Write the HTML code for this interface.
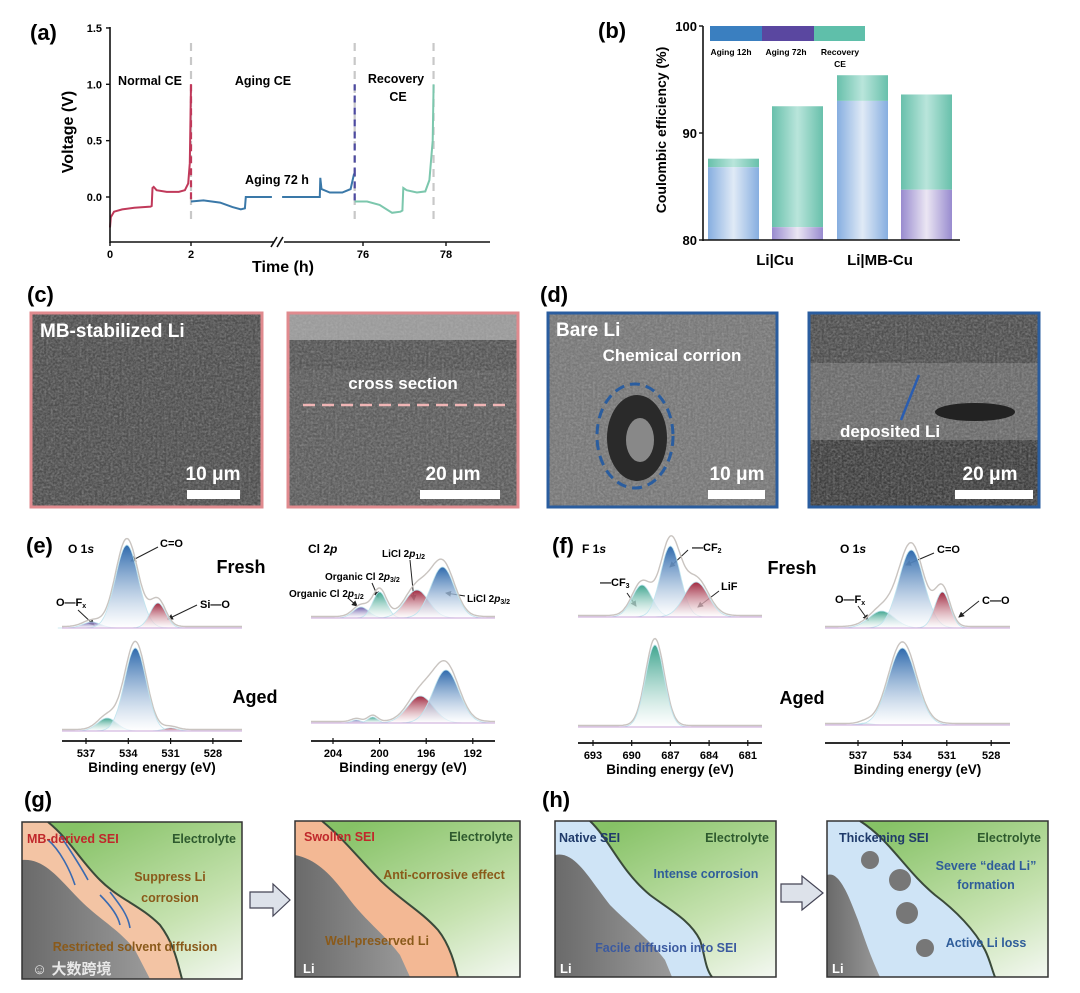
<!DOCTYPE html>
<html><head><meta charset="utf-8"><style>
html,body{margin:0;padding:0;background:#fff;}
svg{display:block;font-family:"Liberation Sans","Noto Sans CJK SC",sans-serif;}
text{font-weight:bold;}
</style></head><body>
<svg id="fig" width="1080" height="993" viewBox="0 0 1080 993" xmlns="http://www.w3.org/2000/svg">
<defs>
<filter id="sem" x="0" y="0" width="1" height="1"><feTurbulence type="fractalNoise" baseFrequency="0.45" numOctaves="3" seed="3"/><feColorMatrix type="matrix" values="0 0 0 0 0.5  0 0 0 0 0.5  0 0 0 0 0.5  0.5 0.5 0 0 -0.35"/><feComposite in2="SourceGraphic" operator="in"/></filter>
<filter id="sem2" x="0" y="0" width="1" height="1"><feTurbulence type="fractalNoise" baseFrequency="0.08" numOctaves="3" seed="9"/><feColorMatrix type="matrix" values="0 0 0 0 0.1  0 0 0 0 0.1  0 0 0 0 0.1  0.9 0.9 0 0 -0.75"/><feComposite in2="SourceGraphic" operator="in"/></filter>
<linearGradient id="gB" x1="0" x2="1"><stop offset="0" stop-color="#86aee0"/><stop offset="0.5" stop-color="#e0eaf6"/><stop offset="1" stop-color="#86aee0"/></linearGradient>
<linearGradient id="gT" x1="0" x2="1"><stop offset="0" stop-color="#68c0ab"/><stop offset="0.5" stop-color="#b9e5db"/><stop offset="1" stop-color="#68c0ab"/></linearGradient>
<linearGradient id="gP" x1="0" x2="1"><stop offset="0" stop-color="#988bcf"/><stop offset="0.5" stop-color="#ebe6f3"/><stop offset="1" stop-color="#988bcf"/></linearGradient>
<linearGradient id="pk-blue" x1="0" y1="0" x2="0" y2="1"><stop offset="0" stop-color="#2e6aad"/><stop offset="1" stop-color="#fff" stop-opacity="0.6"/></linearGradient>
<linearGradient id="pk-red" x1="0" y1="0" x2="0" y2="1"><stop offset="0" stop-color="#a0283f"/><stop offset="1" stop-color="#fff" stop-opacity="0.6"/></linearGradient>
<linearGradient id="pk-green" x1="0" y1="0" x2="0" y2="1"><stop offset="0" stop-color="#3fa58f"/><stop offset="1" stop-color="#fff" stop-opacity="0.6"/></linearGradient>
<linearGradient id="pk-purple" x1="0" y1="0" x2="0" y2="1"><stop offset="0" stop-color="#6a5aa8"/><stop offset="1" stop-color="#fff" stop-opacity="0.6"/></linearGradient>
<linearGradient id="elec" x1="0.3" y1="0" x2="1" y2="1"><stop offset="0" stop-color="#86c266"/><stop offset="0.6" stop-color="#c6e2b0"/><stop offset="1" stop-color="#f4f8f2"/></linearGradient>
<linearGradient id="liG" x1="0" y1="0" x2="1" y2="0"><stop offset="0" stop-color="#6a6a6a"/><stop offset="1" stop-color="#9a9a9a"/></linearGradient>
<marker id="arr" markerWidth="6" markerHeight="6" refX="5" refY="3" orient="auto"><path d="M0,0 L6,3 L0,6 z" fill="#222"/></marker>
</defs>

<!-- panel labels -->
<text x="30" y="40" font-size="22">(a)</text>
<text x="598" y="38" font-size="22">(b)</text>
<text x="27" y="302" font-size="22">(c)</text>
<text x="540" y="302" font-size="22">(d)</text>
<text x="26" y="553" font-size="22">(e)</text>
<text x="552" y="553" font-size="22">(f)</text>
<text x="24" y="807" font-size="22">(g)</text>
<text x="542" y="807" font-size="22">(h)</text>

<!-- panel a static -->
<g id="pa">
<text transform="translate(73,132) rotate(-90)" text-anchor="middle" font-size="16">Voltage (V)</text>
<text x="283" y="272" text-anchor="middle" font-size="16">Time (h)</text>
<text x="150" y="85" text-anchor="middle" font-size="12.5">Normal CE</text>
<text x="263" y="85" text-anchor="middle" font-size="12.5">Aging CE</text>
<text x="396" y="83" text-anchor="middle" font-size="12.5">Recovery</text>
<text x="398" y="101" text-anchor="middle" font-size="12.5">CE</text>
<text x="277" y="184" text-anchor="middle" font-size="12.5">Aging 72 h</text>
</g>

<!-- panel b static -->
<g id="pb">
<text transform="translate(666,130) rotate(-90)" text-anchor="middle" font-size="14">Coulombic efficiency (%)</text>
<rect x="710" y="26" width="52" height="15" fill="#3a7fc0"/>
<rect x="762" y="26" width="52" height="15" fill="#5a47a0"/>
<rect x="814" y="26" width="51" height="15" fill="#5fbfaa"/>
<text x="731" y="55" text-anchor="middle" font-size="8.5">Aging 12h</text>
<text x="786" y="55" text-anchor="middle" font-size="8.5">Aging 72h</text>
<text x="840" y="55" text-anchor="middle" font-size="8.5">Recovery</text>
<text x="840" y="67" text-anchor="middle" font-size="8.5">CE</text>
</g>

<!-- panel c / d SEM -->
<g>
<rect x="31" y="313" width="231" height="194" fill="#4e4e4e"/>
<rect x="31" y="313" width="231" height="194" fill="#000" filter="url(#sem)"/>
<rect x="31" y="313" width="231" height="194" fill="none" stroke="#e08a8e" stroke-width="3"/>
<text x="40" y="337" font-size="19" fill="#fff">MB-stabilized Li</text>
<text x="213" y="480" font-size="19" fill="#fff" text-anchor="middle">10 μm</text>
<rect x="187" y="490" width="53" height="9" fill="#fff"/>
</g>
<g>
<rect x="288" y="313" width="230" height="194" fill="#5c5c5c"/>
<rect x="288" y="313" width="230" height="40" fill="#9a9a9a"/>
<rect x="288" y="340" width="230" height="30" fill="#555"/>
<rect x="288" y="313" width="230" height="194" fill="#000" filter="url(#sem)"/>
<rect x="288" y="313" width="230" height="194" fill="none" stroke="#e08a8e" stroke-width="3"/>
<text x="403" y="389" font-size="17" fill="#fff" text-anchor="middle">cross section</text>
<line x1="303" y1="405" x2="505" y2="405" stroke="#f0b5b5" stroke-width="2.5" stroke-dasharray="12,7"/>
<text x="453" y="480" font-size="19" fill="#fff" text-anchor="middle">20 μm</text>
<rect x="420" y="490" width="80" height="9" fill="#fff"/>
</g>
<g>
<rect x="548" y="313" width="229" height="194" fill="#777"/>
<rect x="548" y="313" width="229" height="194" fill="#000" filter="url(#sem)"/>
<ellipse cx="637" cy="438" rx="30" ry="43" fill="#2a2a2a"/>
<ellipse cx="640" cy="440" rx="14" ry="22" fill="#888"/>
<ellipse cx="635" cy="436" rx="38" ry="52" fill="none" stroke="#2a5d9f" stroke-width="3" stroke-dasharray="10,6"/>
<rect x="548" y="313" width="229" height="194" fill="none" stroke="#2a5d9f" stroke-width="3"/>
<text x="556" y="336" font-size="19" fill="#fff">Bare Li</text>
<text x="672" y="361" font-size="17" fill="#fff" text-anchor="middle">Chemical corrion</text>
<text x="737" y="480" font-size="19" fill="#fff" text-anchor="middle">10 μm</text>
<rect x="708" y="490" width="57" height="9" fill="#fff"/>
</g>
<g>
<rect x="809" y="313" width="230" height="194" fill="#6a6a6a"/>
<rect x="809" y="313" width="230" height="50" fill="#4e4e4e"/>
<rect x="809" y="440" width="230" height="67" fill="#3e3e3e"/>
<rect x="809" y="313" width="230" height="194" fill="#000" filter="url(#sem)"/>
<ellipse cx="975" cy="412" rx="40" ry="9" fill="#222"/>
<rect x="809" y="313" width="230" height="194" fill="none" stroke="#2a5d9f" stroke-width="3"/>
<line x1="919" y1="375" x2="901" y2="420" stroke="#2a5db0" stroke-width="2.5"/>
<text x="890" y="437" font-size="17" fill="#fff" text-anchor="middle">deposited Li</text>
<text x="990" y="480" font-size="19" fill="#fff" text-anchor="middle">20 μm</text>
<rect x="955" y="490" width="78" height="9" fill="#fff"/>
</g>

<!-- XPS labels -->
<g font-size="11">
<text x="68" y="553" font-size="12">O 1<tspan font-style="italic">s</tspan></text>
<text x="241" y="573" font-size="18" text-anchor="middle">Fresh</text>
<text x="255" y="703" font-size="18" text-anchor="middle">Aged</text>
<text x="160" y="547">C=O</text><line x1="158" y1="547" x2="131" y2="561" stroke="#222" marker-end="url(#arr)"/>
<text x="56" y="606">O—F<tspan font-size="7" dy="2">x</tspan></text><line x1="78" y1="610" x2="94" y2="625" stroke="#222" marker-end="url(#arr)"/>
<text x="200" y="608">Si—O</text><line x1="197" y1="605" x2="168" y2="619" stroke="#222" marker-end="url(#arr)"/>
<text x="308" y="553" font-size="12">Cl 2<tspan font-style="italic">p</tspan></text>
<text x="382" y="557" font-size="10">LiCl 2<tspan font-style="italic">p</tspan><tspan font-size="7" dy="2">1/2</tspan></text><line x1="410" y1="560" x2="414" y2="600" stroke="#222" marker-end="url(#arr)"/>
<text x="325" y="580" font-size="10">Organic Cl 2<tspan font-style="italic">p</tspan><tspan font-size="7" dy="2">3/2</tspan></text><line x1="372" y1="583" x2="378" y2="597" stroke="#222" marker-end="url(#arr)"/>
<text x="289" y="597" font-size="10">Organic Cl 2<tspan font-style="italic">p</tspan><tspan font-size="7" dy="2">1/2</tspan></text><line x1="348" y1="598" x2="357" y2="606" stroke="#222" marker-end="url(#arr)"/>
<text x="467" y="602" font-size="10">LiCl 2<tspan font-style="italic">p</tspan><tspan font-size="7" dy="2">3/2</tspan></text><line x1="465" y1="596" x2="446" y2="593" stroke="#222" marker-end="url(#arr)"/>

<text x="582" y="553" font-size="12">F 1<tspan font-style="italic">s</tspan></text>
<text x="792" y="574" font-size="18" text-anchor="middle">Fresh</text>
<text x="802" y="704" font-size="18" text-anchor="middle">Aged</text>
<text x="692" y="551">—CF<tspan font-size="7" dy="2">2</tspan></text><line x1="688" y1="550" x2="670" y2="567" stroke="#222" marker-end="url(#arr)"/>
<text x="600" y="586">—CF<tspan font-size="7" dy="2">3</tspan></text><line x1="627" y1="593" x2="636" y2="606" stroke="#222" marker-end="url(#arr)"/>
<text x="721" y="590">LiF</text><line x1="719" y1="591" x2="698" y2="607" stroke="#222" marker-end="url(#arr)"/>
<text x="840" y="553" font-size="12">O 1<tspan font-style="italic">s</tspan></text>
<text x="937" y="553">C=O</text><line x1="934" y1="553" x2="906" y2="565" stroke="#222" marker-end="url(#arr)"/>
<text x="835" y="603">O—F<tspan font-size="7" dy="2">x</tspan></text><line x1="858" y1="606" x2="868" y2="620" stroke="#222" marker-end="url(#arr)"/>
<text x="982" y="604">C—O</text><line x1="979" y1="601" x2="959" y2="617" stroke="#222" marker-end="url(#arr)"/>
</g>

<!-- schematics -->
<g>
<rect x="22" y="822" width="220" height="157" fill="url(#elec)"/>
<path d="M22,822 L48,822 C70,840 80,860 100,880 C120,900 140,905 160,925 C175,945 178,965 182,979 L22,979 Z" fill="#f3c4a4"/>
<path d="M22,860 C45,858 60,880 80,900 C100,920 120,930 135,950 L150,979 L22,979 Z" fill="url(#liG)"/>
<path d="M48,822 C70,840 80,860 100,880 C120,900 140,905 160,925 C175,945 178,965 182,979" fill="none" stroke="#3a4a3a" stroke-width="2"/>
<path d="M48,840 C60,850 70,870 75,885 M60,835 C70,850 80,865 88,880 M100,895 C110,905 118,915 120,925 M110,892 C120,905 128,915 130,928" stroke="#3a6ab0" stroke-width="1.6" fill="none"/>
<rect x="22" y="822" width="220" height="157" fill="none" stroke="#333" stroke-width="1.5"/>
<text x="27" y="843" font-size="12.5" fill="#c0282b">MB-derived SEI</text>
<text x="236" y="843" font-size="12.5" fill="#2e5a2e" text-anchor="end">Electrolyte</text>
<text x="170" y="881" font-size="12.5" fill="#8a5a1a" text-anchor="middle">Suppress Li</text>
<text x="170" y="902" font-size="12.5" fill="#8a5a1a" text-anchor="middle">corrosion</text>
<text x="135" y="951" font-size="12.5" fill="#8a5a1a" text-anchor="middle">Restricted solvent diffusion</text>
<text x="32" y="974" font-size="15" fill="#e8e8e8" font-weight="normal">☺ 大数跨境</text>
</g>
<path d="M250,892 L273,892 L273,884 L290,900 L273,916 L273,908 L250,908 Z" fill="#dde2ea" stroke="#445" stroke-width="1.2"/>
<g>
<rect x="295" y="821" width="225" height="156" fill="url(#elec)"/>
<path d="M295,821 L322,821 C345,840 360,860 380,880 C400,900 420,910 438,930 C450,945 455,965 458,977 L295,977 Z" fill="#f3b894"/>
<path d="M295,855 C320,860 335,880 350,900 C365,920 385,935 400,955 L410,977 L295,977 Z" fill="url(#liG)"/>
<path d="M322,821 C345,840 360,860 380,880 C400,900 420,910 438,930 C450,945 455,965 458,977" fill="none" stroke="#3a4a3a" stroke-width="2"/>
<rect x="295" y="821" width="225" height="156" fill="none" stroke="#333" stroke-width="1.5"/>
<text x="304" y="841" font-size="12.5" fill="#c0282b">Swollen SEI</text>
<text x="513" y="841" font-size="12.5" fill="#2e5a2e" text-anchor="end">Electrolyte</text>
<text x="444" y="879" font-size="12.5" fill="#8a5a1a" text-anchor="middle">Anti-corrosive effect</text>
<text x="377" y="945" font-size="12.5" fill="#8a5a1a" text-anchor="middle">Well-preserved Li</text>
<text x="303" y="973" font-size="13" fill="#fff">Li</text>
</g>
<g>
<rect x="555" y="821" width="221" height="156" fill="url(#elec)"/>
<path d="M555,821 L590,821 C610,840 620,870 650,895 C670,910 690,920 700,940 C705,955 705,968 712,977 L555,977 Z" fill="#cfe4f6"/>
<path d="M555,855 C575,850 590,880 610,905 C630,925 650,940 665,960 L672,977 L555,977 Z" fill="url(#liG)"/>
<path d="M590,821 C610,840 620,870 650,895 C670,910 690,920 700,940 C705,955 705,968 712,977" fill="none" stroke="#3a4a3a" stroke-width="2"/>
<rect x="555" y="821" width="221" height="156" fill="none" stroke="#333" stroke-width="1.5"/>
<text x="559" y="842" font-size="12.5" fill="#1f3a6a">Native SEI</text>
<text x="769" y="842" font-size="12.5" fill="#2e5a2e" text-anchor="end">Electrolyte</text>
<text x="706" y="878" font-size="12.5" fill="#2f5d9a" text-anchor="middle">Intense corrosion</text>
<text x="666" y="952" font-size="12.5" fill="#3b5aa0" text-anchor="middle">Facile diffusion into SEI</text>
<text x="560" y="973" font-size="13" fill="#fff">Li</text>
</g>
<path d="M781,884 L802,884 L802,876 L823,893 L802,910 L802,902 L781,902 Z" fill="#dde2ea" stroke="#445" stroke-width="1.2"/>
<g>
<rect x="827" y="821" width="221" height="156" fill="url(#elec)"/>
<path d="M827,821 L860,821 C890,840 905,870 935,895 C955,910 975,930 985,950 C990,960 992,970 995,977 L827,977 Z" fill="#cfe4f6"/>
<path d="M827,875 C840,870 850,900 858,920 C865,940 870,955 880,977 L827,977 Z" fill="url(#liG)"/>
<circle cx="870" cy="860" r="9" fill="#777"/><circle cx="900" cy="880" r="11" fill="#777"/><circle cx="907" cy="913" r="11" fill="#777"/><circle cx="925" cy="948" r="9" fill="#777"/>
<path d="M860,821 C890,840 905,870 935,895 C955,910 975,930 985,950 C990,960 992,970 995,977" fill="none" stroke="#3a4a3a" stroke-width="2"/>
<rect x="827" y="821" width="221" height="156" fill="none" stroke="#333" stroke-width="1.5"/>
<text x="839" y="842" font-size="12.5" fill="#1f3a6a">Thickening SEI</text>
<text x="1041" y="842" font-size="12.5" fill="#2e5a2e" text-anchor="end">Electrolyte</text>
<text x="986" y="870" font-size="12.5" fill="#2f5d9a" text-anchor="middle">Severe “dead Li”</text>
<text x="986" y="889" font-size="12.5" fill="#2f5d9a" text-anchor="middle">formation</text>
<text x="986" y="947" font-size="12.5" fill="#2f5d9a" text-anchor="middle">Active Li loss</text>
<text x="832" y="973" font-size="13" fill="#fff">Li</text>
</g>
</svg>
<script>
// ---------- Panel (a) data ----------
const redT = [0,0.02,0.1,0.3,0.6,1.0,1.03,1.05,1.08,1.15,1.4,1.7,1.85,1.93,1.97,2.0];
const redV = [-0.27,-0.18,-0.13,-0.11,-0.095,-0.085,-0.08,0.08,0.09,0.06,0.045,0.045,0.06,0.12,0.3,1.0];
const blue1T = [2.0,2.3,2.7,3.0,3.2,3.3,3.32,3.95];
const blue1V = [-0.04,-0.03,-0.05,-0.09,-0.11,-0.10,0.0,0.0];
const blue2T = [74.05,74.96,74.97,75.0,75.2,75.5,75.7,75.78,75.8];
const blue2V = [0.0,0.0,0.17,0.07,0.04,0.04,0.07,0.2,0.2];
const tealT = [75.8,76.1,76.4,76.7,76.9,76.95,76.97,77.05,77.3,77.5,77.6,77.68,77.7];
const tealV = [-0.04,-0.04,-0.07,-0.14,-0.13,-0.12,0.08,0.06,0.04,0.05,0.15,0.5,1.0];
const aTicksV = [0,0.5,1.0,1.5];
const aTicksT = [0,2,76,78];
const aDividers = [2.0,75.8,77.7];
// ---------- Panel (b) data ----------
const bGroups = ["Li|Cu","Li|MB-Cu"];
const bTotal = [87.6,92.5,95.4,93.6];
const bLower = [86.8,81.2,93.0,84.7];
const bLowerKind = ["12h","72h","12h","72h"];
const bTicks = [80,90,100];
// ---------- XPS data ----------
const eLeftTicks=[537,534,531,528];
const eRightTicks=[204,200,196,192];
const fLeftTicks=[693,690,687,684,681];
const fRightTicks=[537,534,531,528];
const oFreshC=[536.6,534.1,531.9], oFreshA=[6,83,25], oFreshW=[1.5,1.9,1.3];
const oAgedC=[535.5,533.5,531.0], oAgedA=[13,83,3], oAgedW=[1.6,1.8,1.2];
const clFreshC=[201.6,200.0,196.8,194.6], clFreshA=[11,26,28,51], clFreshW=[1.6,1.4,2.4,2.4];
const clAgedC=[202.0,200.6,196.5,194.3], clAgedA=[3,6,27,53], clAgedW=[1.0,1.0,2.6,2.6];
const fFreshC=[689.2,687.0,685.0], fFreshA=[32,71,35], fFreshW=[1.8,1.8,2.2];
const fAgedC=[688.2], fAgedA=[82], fAgedW=[1.7];
const o2FreshC=[535.4,533.4,531.3], o2FreshA=[17,78,36], o2FreshW=[2.0,2.0,1.2];
const o2AgedC=[536.5,534.0], o2AgedA=[2,77], o2AgedW=[1.0,2.2];

const NS="http://www.w3.org/2000/svg";
const fig=document.getElementById('fig');
function mk(tag,attrs,parent){const e=document.createElementNS(NS,tag);for(const k in attrs)e.setAttribute(k,attrs[k]);(parent||fig).appendChild(e);return e;}
function txt(x,y,s,size,anchor,parent){const t=mk('text',{x:x,y:y,'font-size':size,'text-anchor':anchor||'middle'},parent);t.textContent=s;return t;}

// ---- Panel a ----
const pa=document.getElementById('pa');
const aDom=[0,2,4,74,78], aRng=[110,191,274,280,446];
function xa(t){for(let i=0;i<aDom.length-1;i++){if(t<=aDom[i+1]||i===aDom.length-2){return aRng[i]+(t-aDom[i])*(aRng[i+1]-aRng[i])/(aDom[i+1]-aDom[i]);}}}
function ya(v){return 197-v*112.7;}
aDividers.forEach(function(t){const l=mk('line',{x1:xa(t),x2:xa(t),y1:43,y2:222,stroke:'#c8c8c8','stroke-width':2.2,'stroke-dasharray':'8,6'},pa);

});
function lineA(T,V,color,name){let d='';T.forEach(function(t,i){d+=(i?'L':'M')+xa(t).toFixed(1)+','+ya(V[i]).toFixed(1);});
const p=mk('path',{d:d,fill:'none',stroke:color,'stroke-width':2},pa);

}
lineA(redT,redV,'#c0395a','series-normal-ce');
lineA(blue1T,blue1V,'#3a78a8','series-aging-ce-1');
lineA(blue2T,blue2V,'#3a78a8','series-aging-ce-2');
lineA(tealT,tealV,'#7cc7ad','series-recovery-ce');
// dashed vertical jumps
[[2.0,1.0,-0.03,'#c0395a'],[75.8,0.2,1.0,'#4d4aa0'],[75.8,-0.03,0.2,'#4d4aa0']].forEach(function(s){const l=mk('line',{x1:xa(s[0]),x2:xa(s[0]),y1:ya(s[1]),y2:ya(s[2]),stroke:s[3],'stroke-width':2.2,'stroke-dasharray':'7,5'},pa);

});
const yAx=mk('line',{x1:110,x2:110,y1:27,y2:243,stroke:'#111','stroke-width':1.6},pa);


const xAx=mk('path',{d:'M110,242 L274,242 M284,242 L490,242',stroke:'#111','stroke-width':1.6,fill:'none'},pa);


const brk=mk('path',{d:'M271,247 L277,237 M277,247 L283,237',stroke:'#111','stroke-width':1.6,fill:'none'},pa);


aTicksV.forEach(function(v){mk('line',{x1:106,x2:110,y1:ya(v),y2:ya(v),stroke:'#111','stroke-width':1.4},pa);
const t=txt(102,ya(v)+4,v.toFixed(1),11,'end',pa);

});
aTicksT.forEach(function(v){const x=(v===76)?363:xa(v);mk('line',{x1:x,x2:x,y1:242,y2:246,stroke:'#111','stroke-width':1.4},pa);
const t=txt(x,258,String(v),11,'middle',pa);

});

// ---- Panel b ----
const pb=document.getElementById('pb');
function yb(v){return 240-(v-80)*10.7;}
const bX=[708,772,837,901], bW=51;
bTotal.forEach(function(tot,i){
 const r1=mk('rect',{x:bX[i],y:yb(tot),width:bW,height:yb(bLower[i])-yb(tot),fill:'url(#gT)'},pb);
 
 
 const r2=mk('rect',{x:bX[i],y:yb(bLower[i]),width:bW,height:yb(80)-yb(bLower[i]),fill:bLowerKind[i]==='12h'?'url(#gB)':'url(#gP)'},pb);
 
 
});
const byAx=mk('line',{x1:703,x2:703,y1:26,y2:241,stroke:'#111','stroke-width':1.6},pb);


const bxAx=mk('line',{x1:703,x2:960,y1:240,y2:240,stroke:'#111','stroke-width':1.6},pb);


bTicks.forEach(function(v){mk('line',{x1:699,x2:703,y1:yb(v),y2:yb(v),stroke:'#111','stroke-width':1.4},pb);
const t=txt(697,yb(v)+5,String(v),13,'end',pb);

});
bGroups.forEach(function(g,i){const t=txt(i?880:775,265,g,15,'middle',pb);

});

// ---- XPS ----
const colorMap={b:'blue',r:'red',g:'green',p:'purple'};
const strokeMap={blue:'#2e6aad',red:'#a0283f',green:'#3fa58f',purple:'#6a5aa8'};
function xpsPanel(opt){
 const g=mk('g',{});
 
 
 const xs=function(e){return opt.x0+(opt.e0-e)*opt.k;};
 const eHi=opt.e0+(opt.x0-opt.xl)/opt.k, eLo=opt.e0-(opt.xr-opt.x0)/opt.k;
 function gauss(e,c,a,w){const s=w/2.355;return a*Math.exp(-(e-c)*(e-c)/(2*s*s));}
 opt.spectra.forEach(function(sp){
  const N=160;const env=[];
  for(let j=0;j<=N;j++){const e=eHi-(eHi-eLo)*j/N;let s=0;sp.c.forEach(function(c,i){s+=gauss(e,c,sp.a[i],sp.w[i]);});env.push([xs(e),sp.base-s*1.06-1.5]);}
  // envelope
  let d='';env.forEach(function(p,j){d+=(j?'L':'M')+p[0].toFixed(1)+','+p[1].toFixed(1);});
  const ev=mk('path',{d:d,fill:'none',stroke:'#c9c4c0','stroke-width':1.4},g);
  
  
  sp.c.forEach(function(c,i){
   const col=sp.col[i];let pd='';const lo=c-sp.w[i]*1.6,hi=c+sp.w[i]*1.6;
   for(let j=0;j<=60;j++){const e=hi-(hi-lo)*j/60;pd+=(j?'L':'M')+xs(e).toFixed(1)+','+(sp.base-gauss(e,c,sp.a[i],sp.w[i])).toFixed(1);}
   pd+='Z';
   const p=mk('path',{d:pd,fill:'url(#pk-'+col+')',stroke:'#bfe4ee','stroke-width':0.8},g);
   
   
  });
  const bl=mk('line',{x1:opt.xl,x2:opt.xr,y1:sp.base,y2:sp.base,stroke:'#c9a6d8','stroke-width':1},g);
  
  
 });
 const ax=mk('line',{x1:opt.xl,x2:opt.xr,y1:opt.ay,y2:opt.ay,stroke:'#111','stroke-width':1.8},g);
 
 
 opt.ticks.forEach(function(v){mk('line',{x1:xs(v),x2:xs(v),y1:opt.ay-3,y2:opt.ay+3,stroke:'#111','stroke-width':1.2},g);
 const t=txt(xs(v),opt.ay+16,String(v),11,'middle',g);
 
 });
 const tt=txt((opt.xl+opt.xr)/2,opt.ay+31,'Binding energy (eV)',13.5,'middle',g);
 
 
}
xpsPanel({name:'xps-o1s-mb',x0:86,e0:537,k:14.1,xl:62,xr:242,ay:741,ticks:eLeftTicks,spectra:[
 {base:628,c:oFreshC,a:oFreshA,w:oFreshW,col:['purple','blue','red']},
 {base:731,c:oAgedC,a:oAgedA,w:oAgedW,col:['green','blue','red']}]});
xpsPanel({name:'xps-cl2p-mb',x0:333,e0:204,k:11.65,xl:311,xr:495,ay:741,ticks:eRightTicks,spectra:[
 {base:618,c:clFreshC,a:clFreshA,w:clFreshW,col:['purple','green','red','blue']},
 {base:723,c:clAgedC,a:clAgedA,w:clAgedW,col:['purple','green','red','blue']}]});
xpsPanel({name:'xps-f1s-bare',x0:593,e0:693,k:12.9,xl:578,xr:762,ay:743,ticks:fLeftTicks,spectra:[
 {base:617,c:fFreshC,a:fFreshA,w:fFreshW,col:['green','blue','red']},
 {base:727,c:fAgedC,a:fAgedA,w:fAgedW,col:['green']}]});
xpsPanel({name:'xps-o1s-bare',x0:858,e0:537,k:14.8,xl:825,xr:1010,ay:743,ticks:fRightTicks,spectra:[
 {base:628,c:o2FreshC,a:o2FreshA,w:o2FreshW,col:['green','blue','red']},
 {base:725,c:o2AgedC,a:o2AgedA,w:o2AgedW,col:['green','blue']}]});
</script>
</body></html>
